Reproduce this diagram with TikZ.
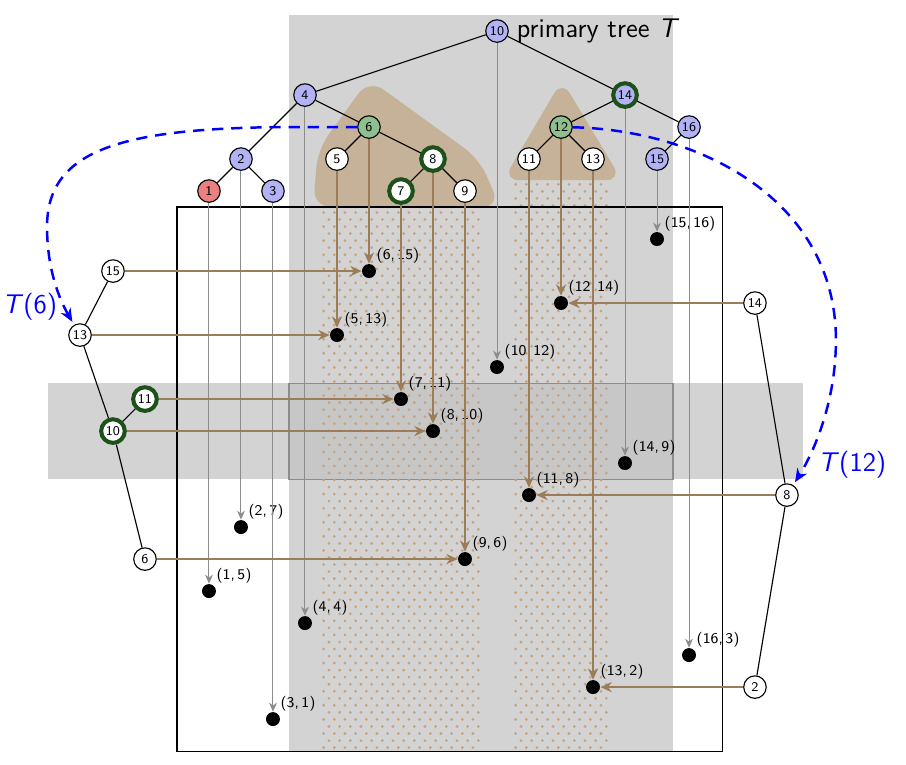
\documentclass[tikz,border=0pt]{standalone}
\usetikzlibrary{arrows.meta}
\definecolor{lav}{RGB}{178,178,245}
\definecolor{rednode}{RGB}{235,128,128}
\definecolor{grn}{RGB}{143,190,143}
\definecolor{dkgrn}{RGB}{30,80,25}
\definecolor{bandgray}{RGB}{211,211,211}
\definecolor{isect}{RGB}{199,199,199}
\definecolor{isectline}{RGB}{140,140,140}
\definecolor{hullc}{RGB}{198,178,152}
\definecolor{dotc}{RGB}{200,163,122}
\definecolor{brn}{RGB}{155,125,90}
\definecolor{gline}{RGB}{140,140,140}
\begin{document}
\begin{tikzpicture}[x=0.5cm,y=0.5cm,font=\sffamily,
  tn/.style={circle,draw=black,line width=0.5pt,minimum size=10pt,inner sep=0pt,font=\sffamily\fontsize{5.9}{6}\selectfont},
  lavn/.style={tn,fill=lav},
  redn/.style={tn,fill=rednode},
  grnn/.style={tn,fill=grn},
  whn/.style={tn,fill=white},
  hl/.style={draw=dkgrn,line width=1.8pt,minimum size=10.5pt},
  pt/.style={circle,fill=black,minimum size=6.2pt,inner sep=0pt},
  plab/.style={inner sep=0.5pt,font=\sffamily\fontsize{6.6}{7}\selectfont},
  barr/.style={draw=brn,line width=0.9pt,-{Stealth[length=5pt,width=4.5pt]}},
  garr/.style={draw=gline,line width=0.45pt,-{Stealth[length=4pt,width=3.5pt]}},
  tedge/.style={draw=black,line width=0.5pt},
  bluedash/.style={draw=blue,line width=1.1pt,dash pattern=on 5pt off 3.5pt,-{Stealth[length=6pt,width=5pt]},shorten >=1.5pt},
  biglab/.style={font=\sffamily\fontsize{12}{14}\selectfont}
]
\useasboundingbox (-5.53,-0.406) rectangle (22.78,23.47);
% gray bands
\fill[bandgray] (3.5,0) rectangle (15.5,23.0);
\fill[bandgray] (-4.03,8.5) rectangle (19.56,11.5);
\filldraw[fill=isect,draw=isectline,line width=0.5pt] (3.5,8.5) rectangle (15.5,11.5);
% dotted strips (staggered dots)
\foreach \j in {0,...,40}{
  \foreach \i in {0,...,14}{
    \fill[dotc] ({4.5+(\i+0.25)/3},{0.11+0.44*\j}) circle (0.048);
    \fill[dotc] ({4.5+(\i+0.75)/3},{0.33+0.44*\j}) circle (0.048);
  }
  \foreach \i in {0,...,8}{
    \fill[dotc] ({10.5+(\i+0.25)/3},{0.11+0.44*\j}) circle (0.048);
    \fill[dotc] ({10.5+(\i+0.75)/3},{0.33+0.44*\j}) circle (0.048);
  }
}
% hulls
\fill[hullc,rounded corners=8pt] (6.0,21.0) -- (4.4,18.8) -- (4.25,17.0) -- (10.1,17.0) -- (9.45,18.5) -- cycle;
\fill[hullc,rounded corners=7pt] (12.03,20.97) -- (10.19,17.84) -- (13.9,17.84) -- cycle;
% box
\draw[line width=0.5pt] (0,0) rectangle (17.05,17);
% top tree nodes
\node[lavn] (t10) at (10,22.5) {10};
\node[lavn] (t4) at (4,20.5) {4};
\node[lavn,hl] (t14) at (14,20.5) {14};
\node[grnn] (t6) at (6,19.5) {6};
\node[grnn] (t12) at (12,19.5) {12};
\node[lavn] (t16) at (16,19.5) {16};
\node[lavn] (t2) at (2,18.5) {2};
\node[whn] (t5) at (5,18.5) {5};
\node[whn,hl] (t8) at (8,18.5) {8};
\node[whn] (t11) at (11,18.5) {11};
\node[whn] (t13) at (13,18.5) {13};
\node[lavn] (t15) at (15,18.5) {15};
\node[redn] (t1) at (1,17.5) {1};
\node[lavn] (t3) at (3,17.5) {3};
\node[whn,hl] (t7) at (7,17.5) {7};
\node[whn] (t9) at (9,17.5) {9};
\node[biglab,anchor=west] (title) at (t10.east) {primary tree \textit{T}};
% left tree
\node[whn] (l15) at (-2,15) {15};
\node[whn] (l13) at (-3.03,13) {13};
\node[whn,hl] (l11) at (-1,11) {11};
\node[whn,hl] (l10) at (-2,10) {10};
\node[whn] (l6) at (-1,6) {6};
% right tree
\node[whn] (r14) at (18.06,14) {14};
\node[whn] (r8) at (19.06,8) {8};
\node[whn] (r2) at (18.06,2) {2};
% points
\foreach \a/\b in {1/5,2/7,3/1,4/4,5/13,6/15,7/11,8/10,9/6,10/12,11/8,12/14,13/2,14/9,15/16,16/3}{
  \node[pt,label={[plab,anchor=south west,label distance=0.5pt]45:{(\a,\,\b)}}] (p\a) at (\a,\b) {};
}
% tree edges
\draw[tedge] (t10) -- (t4);
\draw[tedge] (t10) -- (t14);
\draw[tedge] (t4) -- (t2);
\draw[tedge] (t4) -- (t6);
\draw[tedge] (t2) -- (t1);
\draw[tedge] (t2) -- (t3);
\draw[tedge] (t6) -- (t5);
\draw[tedge] (t6) -- (t8);
\draw[tedge] (t8) -- (t7);
\draw[tedge] (t8) -- (t9);
\draw[tedge] (t14) -- (t12);
\draw[tedge] (t14) -- (t16);
\draw[tedge] (t12) -- (t11);
\draw[tedge] (t12) -- (t13);
\draw[tedge] (t16) -- (t15);
\draw[tedge] (l13) -- (l15);
\draw[tedge] (l13) -- (l10);
\draw[tedge] (l10) -- (l11);
\draw[tedge] (l10) -- (l6);
\draw[tedge] (r8) -- (r14);
\draw[tedge] (r8) -- (r2);
% gray arrows
\foreach \k in {1,2,3,4,10,14,15,16}{\draw[garr] (t\k) -- (p\k);}
% brown arrows
\foreach \k in {5,6,7,8,9,11,12,13}{\draw[barr] (t\k) -- (p\k);}
\draw[barr] (l15) -- (p6);
\draw[barr] (l13) -- (p5);
\draw[barr] (l11) -- (p7);
\draw[barr] (l10) -- (p8);
\draw[barr] (l6) -- (p9);
\draw[barr] (r14) -- (p12);
\draw[barr] (r8) -- (p11);
\draw[barr] (r2) -- (p13);
% blue curves
\draw[bluedash] (t6) -- (3.75,19.5) .. controls (-1.78,19.5) and (-4.06,18.78) .. (-4.06,16.38) .. controls (-4.06,15.03) and (-3.66,14.09) .. (l13);
\draw[bluedash] (t12) .. controls (16.34,19.41) and (20.59,17.22) .. (20.59,12.84) .. controls (20.59,10.97) and (19.94,9.41) .. (r8);
\node[biglab,text=blue] (lab6) at (-4.6,13.88) {\textit{T}(6)};
\node[biglab,text=blue] (lab12) at (21.1,8.94) {\textit{T}(12)};
\end{tikzpicture}
\end{document}
